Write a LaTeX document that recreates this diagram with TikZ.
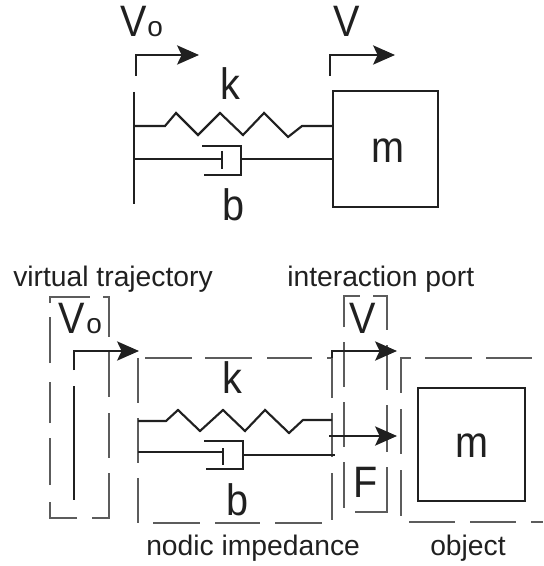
\documentclass[tikz,border=0pt]{standalone}
\usepackage{fontspec}
\setmainfont{Liberation Sans}
\newfontfamily\tallfont[FakeStretch=0.9]{Liberation Sans}
\usetikzlibrary{arrows.meta}
\definecolor{ink}{HTML}{202020}
\definecolor{dashc}{HTML}{5C5C5C}
\tikzset{
  x=0.75pt,y=-0.75pt,
  solidline/.style={draw=ink,line width=1.6pt,line join=miter},
  thinline/.style={draw=ink,line width=1.1pt},
  dashbox/.style={draw=dashc,line width=1.1pt},
  flowarrow/.style={draw=ink,line width=1pt,-{Stealth[length=16.5pt,width=14.5pt,inset=3.5pt]}},
  big/.style={inner sep=0pt,anchor=base west,text=ink,font=\tallfont\fontsize{33}{38}\selectfont},
  sub/.style={inner sep=0pt,anchor=base west,text=ink,font=\fontsize{21}{25}\selectfont},
  caption/.style={inner sep=0pt,anchor=base west,text=ink,font=\fontsize{21.2}{25}\selectfont},
  massbox/.style={draw=ink,line width=1.5pt,inner sep=0pt,anchor=north west}
}
\begin{document}
\begin{tikzpicture}
\useasboundingbox (0,0) rectangle (543,566);
% ---------- top diagram ----------
\node[big] (tv0) at (120,37) {V};
\node[sub] (to0) at (147,37) {o};
\node[big] (tv) at (333,37) {V};
\node[big] (tk) at (220,100) {k};
\node[big] (tb) at (222,220) {b};
\node[big] (tm) at (371,163) {m};
\node[massbox,minimum width=78.75pt,minimum height=87pt] (mass1) at (332,90) {};
\coordinate (w1a) at (134,92); \coordinate (w1b) at (134,204);
\draw[solidline] (w1a) -- (w1b);
\draw[flowarrow] (136,76) -- (136,55) -- (199,55);
\draw[flowarrow] (330,76) -- (330,55) -- (395,55);
\draw[solidline] (134,126) -- (165,126) -- (176,113) -- (198,135) -- (220,113) -- (243,135) -- (264,113) -- (288,137) -- (302,126) -- (332,126);
\draw[solidline] (134,159) -- (222,159);
\draw[thinline] (222,151) -- (222,169);
\draw[solidline] (202,146) -- (241,146) -- (241,175) -- (204,175);
\draw[solidline] (241,159) -- (332,159);
% ---------- bottom diagram: labels ----------
\node[caption] (lvt) at (13,286) {virtual trajectory};
\node[caption] (lip) at (287,286) {interaction port};
\node[caption] (lni) at (146,555) {nodic impedance};
\node[caption] (lob) at (430,555) {object};
\node[big] (bv0) at (58,333) {V};
\node[sub] (bo0) at (86,333) {o};
\node[big] (bv) at (349,333) {V};
\node[big] (bf) at (353,497) {F};
\node[big] (bk) at (222,393) {k};
\node[big] (bb) at (226,515) {b};
\node[big] (bm) at (455,457) {m};
% virtual trajectory box
\draw[dashbox] (50,303) -- (50,297) -- (90,297) (103,297) -- (109,297) -- (109,337)
  (109,352) -- (109,397) (109,413) -- (109,458) (109,473) -- (109,518) -- (92,518)
  (77,518) -- (50,518) -- (50,502) (50,485) -- (50,438) (50,423) -- (50,382) (50,363) -- (50,317);
% nodic impedance box
\draw[dashbox] (138,358) -- (138,403) (138,418) -- (138,463) (138,478) -- (138,523)
  (145,358) -- (192,358) (205,358) -- (252,358) (267,358) -- (312,358) (327,358) -- (332,358) -- (332,398)
  (332,413) -- (332,457) (332,473) -- (332,520)
  (153,523) -- (200,523) (215,523) -- (260,523) (275,523) -- (322,523);
% interaction port box
\draw[dashbox] (344,327) -- (344,296) -- (360,296) (373,296) -- (387,296) -- (387,330)
  (387,345) -- (387,390) (387,405) -- (387,452) (387,467) -- (387,512) -- (355,512)
  (344,342) -- (344,387) (344,402) -- (344,447) (344,462) -- (344,508);
% object box
\draw[dashbox] (411,358) -- (401,358) -- (401,393) (401,409) -- (401,454) (401,470) -- (401,516)
  (425,358) -- (472,358) (486,358) -- (532,358)
  (409,522) -- (455,522) (470,522) -- (516,522) (531,522) -- (543,522);
% virtual trajectory symbol
\draw[flowarrow] (74,370) -- (74,351) -- (139,351);
\draw[solidline,line width=1.3pt] (74,386) -- (74,500);
% arrows at port
\draw[flowarrow] (332,358) -- (332,351) -- (397,351);
\draw[flowarrow] (329,436) -- (397,436);
% spring and damper
\draw[solidline] (138,421) -- (166,421) -- (178,410) -- (200,431) -- (223,410) -- (245,431) -- (265,410) -- (289,433) -- (303,420) -- (332,420);
\draw[solidline] (138,452) -- (223,452);
\draw[thinline] (223,448) -- (223,465);
\draw[solidline] (204,441) -- (243,441) -- (243,469) -- (206,469);
\draw[solidline] (243,455) -- (335,455);
\node[massbox,minimum width=80.25pt,minimum height=84.75pt] (mass2) at (417,387) {};
\end{tikzpicture}
\end{document}
